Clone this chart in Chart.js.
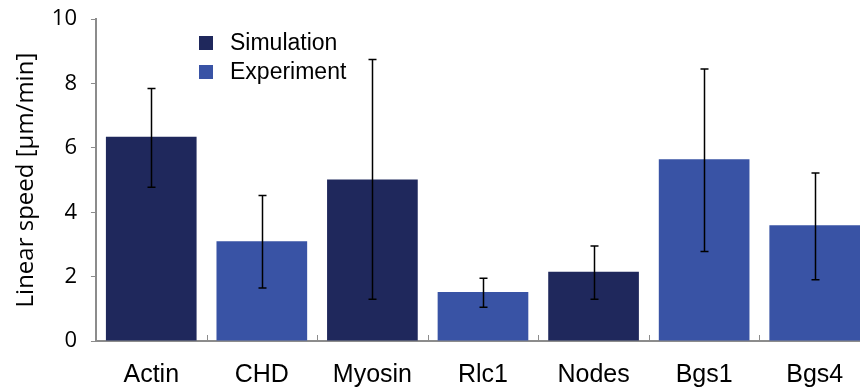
<!DOCTYPE html>
<html>
<head>
<meta charset="utf-8">
<script src="https://cdn.jsdelivr.net/npm/chart.js@4"></script>
<style>
  html, body { margin: 0; padding: 0; background: #fff; overflow: hidden; }
  #wrap { position: relative; top: -8px; width: 875px; height: 403px; }
</style>
</head>
<body>
<div id="wrap"><canvas id="grafico"></canvas></div>
<script>
const categorias = ["Actin", "CHD", "Myosin", "Rlc1", "Nodes", "Bgs1", "Bgs4"];
const simulacao = [6.35, null, 5.02, null, 2.15, null, null];
const experimento = [null, 3.1, null, 1.52, null, 5.65, 3.6];
const erroMin = [4.78, 1.65, 1.3, 1.05, 1.3, 2.78, 1.9];
const erroMax = [7.85, 4.52, 8.75, 1.95, 2.95, 8.45, 5.22];
const yTicks = [0, 2, 4, 6, 8, 10];

const corSim = "#1f285c";
const corExp = "#3953a5";

// barras de erro + marcas do eixo x + legenda
const extras = {
    id: "extras",
    afterDatasetsDraw(chart) {
        const ctx = chart.ctx;
        const x = chart.scales.x;
        const y = chart.scales.y;
        const area = chart.chartArea;
        ctx.save();

        // marcas entre categorias (para dentro)
        ctx.strokeStyle = "#8c8c8c";
        ctx.lineWidth = 1;
        for (let i = 1; i < categorias.length; i++) {
            const px = Math.round((x.getPixelForValue(i - 1) + x.getPixelForValue(i)) / 2) + 0.5;
            ctx.beginPath();
            ctx.moveTo(px, area.bottom);
            ctx.lineTo(px, area.bottom - 6);
            ctx.stroke();
        }

        ctx.strokeStyle = "#000";
        ctx.lineWidth = 1.5;
        categorias.forEach((c, i) => {
            const px = Math.round(x.getPixelForValue(i)) + 0.5;
            const y1 = y.getPixelForValue(erroMin[i]);
            const y2 = y.getPixelForValue(erroMax[i]);
            ctx.beginPath();
            ctx.moveTo(px, y1);
            ctx.lineTo(px, y2);
            ctx.moveTo(px - 4, y1);
            ctx.lineTo(px + 4, y1);
            ctx.moveTo(px - 4, y2);
            ctx.lineTo(px + 4, y2);
            ctx.stroke();
        });

        // legenda (canvas deslocado 8px para cima)
        ctx.font = "23px 'Liberation Sans', Arial, sans-serif";
        ctx.textBaseline = "middle";
        chart.data.datasets.forEach((ds, k) => {
            const ly = 51 + k * 29;
            ctx.fillStyle = ds.backgroundColor;
            ctx.fillRect(199, ly - 7, 14, 14);
            ctx.fillStyle = "#000";
            ctx.fillText(ds.label, 230, ly + 1);
        });
        ctx.restore();
    }
};

new Chart(document.getElementById("grafico"), {
    type: "bar",
    data: {
        labels: categorias,
        datasets: [
            {
                label: "Simulation",
                data: simulacao,
                backgroundColor: corSim
            },
            {
                label: "Experiment",
                data: experimento,
                backgroundColor: corExp
            }
        ]
    },
    options: {
        responsive: true,
        maintainAspectRatio: false,
        animation: false,
        grouped: false,
        barPercentage: 0.82,
        categoryPercentage: 1,
        layout: { padding: { top: -13, right: 5, left: 12, bottom: -14 } },
        plugins: {
            legend: { display: false },
            tooltip: { enabled: false }
        },
        scales: {
            x: {
                grid: { display: false, drawTicks: false },
                border: { color: "#8c8c8c", width: 2 },
                ticks: {
                    color: "#000",
                    padding: 19,
                    font: { family: "'Liberation Sans', Arial, sans-serif", size: 25 }
                }
            },
            y: {
                min: 0,
                max: 10,
                afterBuildTicks: axis => {
                    axis.ticks = yTicks.map(v => ({ value: v }));
                },
                grid: { drawOnChartArea: false, tickLength: 5, color: "#8c8c8c", tickColor: "#8c8c8c" },
                border: { color: "#8c8c8c", width: 2 },
                ticks: {
                    color: "#000",
                    padding: 14,
                    font: { family: "'Open Sans', 'Liberation Sans', sans-serif", size: 22 }
                },
                title: {
                    display: true,
                    text: "Linear speed [µm/min]",
                    color: "#000",
                    padding: { top: 0, bottom: -3 },
                    font: { family: "'Open Sans', 'Liberation Sans', sans-serif", size: 24 }
                }
            }
        }
    },
    plugins: [extras]
});
</script>
</body>
</html>
